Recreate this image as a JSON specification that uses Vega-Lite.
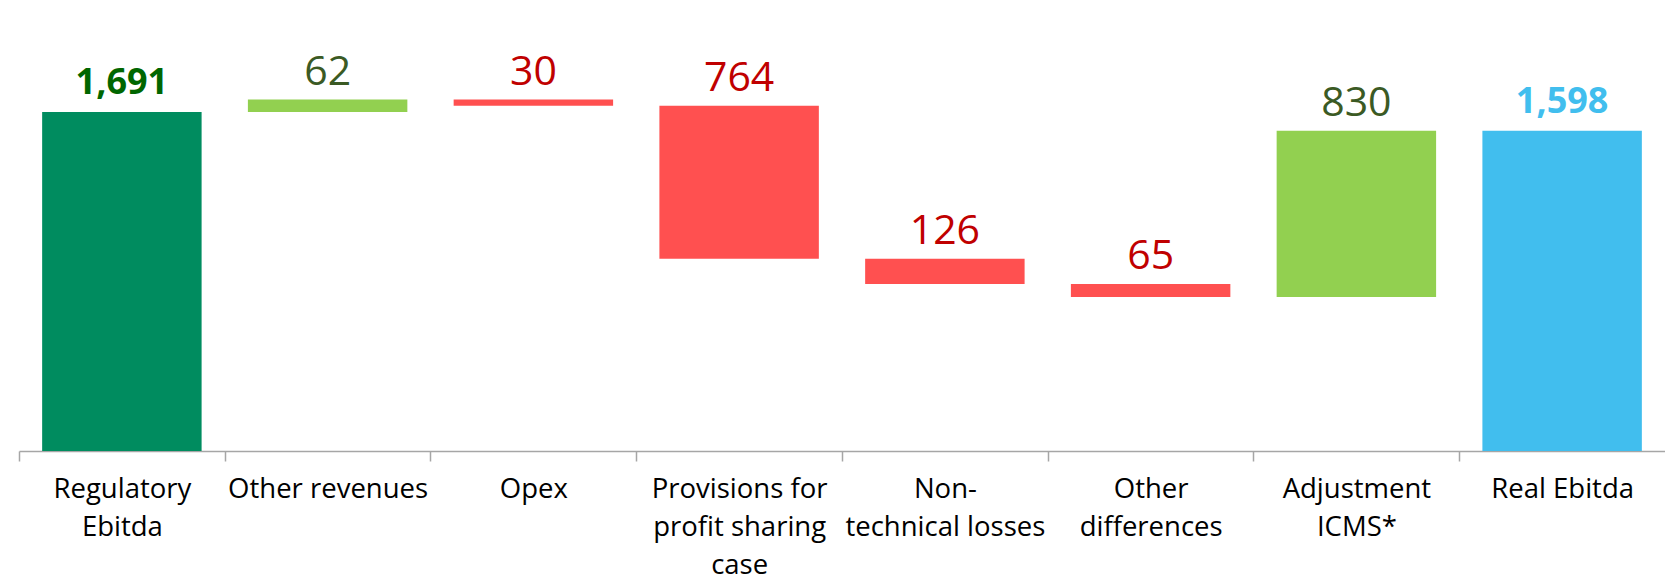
{
  "$schema": "https://vega.github.io/schema/vega-lite/v6.json",
  "autosize": "none",
  "width": 1646,
  "height": 451,
  "padding": {"left": 19, "top": 0, "right": 0, "bottom": 126},
  "background": "white",
  "config": {"view": {"stroke": null}, "font": "Open Sans"},
  "data": {
    "values": [
      {"category": "Regulatory|Ebitda", "low": 0, "high": 1691, "value": 1691, "kind": "start"},
      {"category": "Other revenues", "low": 1691, "high": 1753, "value": 62, "kind": "up"},
      {"category": "Opex", "low": 1723, "high": 1753, "value": 30, "kind": "down"},
      {"category": "Provisions for|profit sharing|case", "low": 959, "high": 1723, "value": 764, "kind": "down"},
      {"category": "Non-|technical losses", "low": 833, "high": 959, "value": 126, "kind": "down"},
      {"category": "Other|differences", "low": 768, "high": 833, "value": 65, "kind": "down"},
      {"category": "Adjustment|ICMS*", "low": 768, "high": 1598, "value": 830, "kind": "up"},
      {"category": "Real Ebitda", "low": 0, "high": 1598, "value": 1598, "kind": "end"}
    ]
  },
  "encoding": {
    "x": {
      "field": "category",
      "type": "nominal",
      "sort": null,
      "scale": {"paddingInner": 0.225, "paddingOuter": 0.1125},
      "axis": {
        "title": null,
        "labelAngle": 0,
        "labelExpr": "split(datum.label, '|')",
        "labelFont": "Open Sans",
        "labelFontSize": 27.5,
        "labelColor": "#000000",
        "labelLineHeight": 38,
        "labelPadding": 14,
        "labelLimit": 400,
        "labelOverlap": false,
        "labelBound": false,
        "bandPosition": 0,
        "tickOffset": -23.15,
        "labelOffset": 23.15,
        "tickExtra": false,
        "tickSize": 10,
        "tickColor": "#A6A6A6",
        "tickWidth": 1.5,
        "domainColor": "#A6A6A6",
        "domainWidth": 1.5
      }
    }
  },
  "layer": [
    {
      "mark": {"type": "bar"},
      "encoding": {
        "y": {"field": "low", "type": "quantitative", "scale": {"domain": [0, 2250], "nice": false}, "axis": null},
        "y2": {"field": "high"},
        "color": {
          "field": "kind",
          "type": "nominal",
          "scale": {"domain": ["start", "up", "down", "end"], "range": ["#008C5F", "#92D050", "#FF5050", "#41BEEE"]},
          "legend": null
        }
      }
    },
    {
      "transform": [{"filter": "datum.kind == 'up' || datum.kind == 'down'"}],
      "mark": {"type": "text", "font": "Open Sans", "fontSize": 41, "baseline": "alphabetic", "dy": -15},
      "encoding": {
        "y": {"field": "high", "type": "quantitative"},
        "text": {"field": "value", "type": "quantitative", "format": ","},
        "color": {
          "field": "kind",
          "type": "nominal",
          "scale": {"domain": ["start", "up", "down", "end"], "range": ["#006600", "#3B5A24", "#C00000", "#41BEEE"]},
          "legend": null
        }
      }
    },
    {
      "transform": [{"filter": "datum.kind == 'start' || datum.kind == 'end'"}],
      "mark": {"type": "text", "font": "Open Sans", "fontSize": 36, "fontWeight": "bold", "baseline": "alphabetic", "dy": -18},
      "encoding": {
        "y": {"field": "high", "type": "quantitative"},
        "text": {"field": "value", "type": "quantitative", "format": ","},
        "color": {
          "field": "kind",
          "type": "nominal",
          "scale": {"domain": ["start", "up", "down", "end"], "range": ["#006600", "#3B5A24", "#C00000", "#41BEEE"]},
          "legend": null
        }
      }
    }
  ],
  "resolve": {"scale": {"color": "independent"}}
}
